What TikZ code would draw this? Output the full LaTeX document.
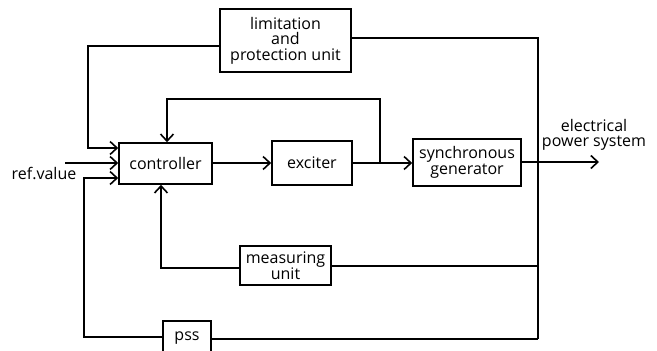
\documentclass[tikz,border=0pt]{standalone}
\usepackage{fontspec}
\setmainfont{Open Sans}
\usetikzlibrary{arrows.meta}
\begin{document}
\begin{tikzpicture}[x=1pt,y=-1pt,
  txt/.style={inner sep=0pt, align=center, font=\fontsize{16}{15.5}\selectfont},
  box/.style={txt, draw, line width=1.6pt},
  ln/.style={line width=1.6pt},
  arr/.style={line width=1.6pt, -{Straight Barb[length=7pt,width=13pt,line width=1.6pt]}}]
\useasboundingbox (0,0) rectangle (657,351);
% blocks
\node[box, minimum width=131pt, minimum height=63pt] (lim) at (285.5,40.5) {limitation\\and\\protection unit};
\node[box, minimum width=93pt, minimum height=41pt] (ctrl) at (165.5,163.5) {controller};
\node[box, minimum width=80pt, minimum height=44pt] (exc) at (312,163) {exciter};
\node[box, minimum width=108pt, minimum height=47pt] (gen) at (467,162.5) {synchronous\\generator};
\node[box, minimum width=91pt, minimum height=39pt, font=\fontsize{16}{14}\selectfont] (meas) at (285.5,265.5) {measuring\\unit};
\node[box, minimum width=48pt, minimum height=34pt] (pss) at (187,338) {pss};
% labels
\node[txt] (ref) at (44,173) {ref.value};
\node[txt, font=\fontsize{16}{15.5}\selectfont] (eps) at (594,135) {electrical\\power system};
% coordinates
\coordinate (refs) at (65,163);
\coordinate (l1) at (88,46);
\coordinate (l2) at (88,148);
\coordinate (p1) at (84,337);
\coordinate (p2) at (84,178);
\coordinate (f1) at (380,163);
\coordinate (f2) at (380,99);
\coordinate (f3) at (167,99);
\coordinate (out) at (599,162);
\coordinate (v1) at (538,38);
\coordinate (v2) at (538,339);
\coordinate (m1) at (161,268);
\coordinate (mr) at (538,266);
% connectors
\draw[arr] (lim.west |- l1) -- (l1) -- (l2) -- (ctrl.west |- l2);
\draw[arr] (refs) -- (ctrl.west |- refs);
\draw[arr] (pss.west |- p1) -- (p1) -- (p2) -- (ctrl.west |- p2);
\draw[arr] (ctrl.east |- refs) -- (exc.west |- refs);
\draw[arr] (exc.east |- f1) -- (gen.west |- f1);
\draw[arr] (f1) -- (f2) -- (f3) -- (f3 |- ctrl.north);
\draw[arr] (gen.east |- out) -- (out);
\draw[ln] (lim.east |- v1) -- (v1) -- (v2);
\draw[ln] (meas.east |- mr) -- (mr);
\draw[ln] (pss.east |- v2) -- (v2);
\draw[arr] (meas.west |- m1) -- (m1) -- (m1 |- ctrl.south);
\end{tikzpicture}
\end{document}
